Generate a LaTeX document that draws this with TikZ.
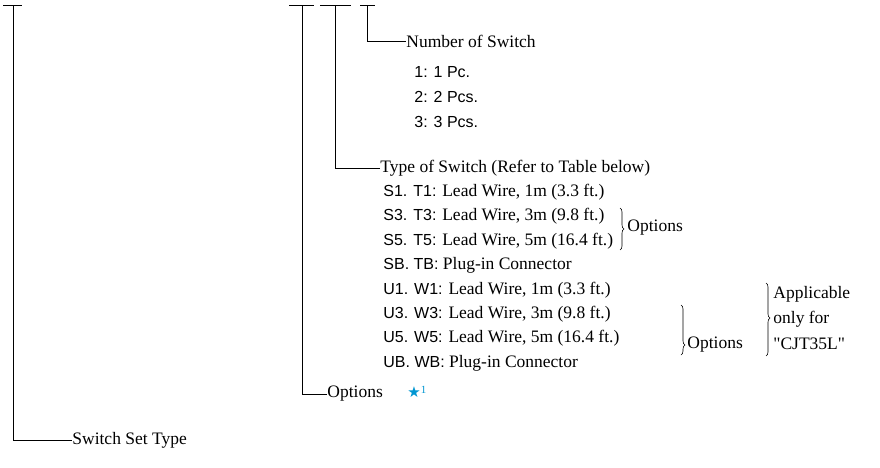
\documentclass[tikz,border=0pt]{standalone}
\usepackage{fontspec}
\setmainfont{Liberation Serif}
\newfontfamily\codefont{Liberation Sans}
\newfontfamily\symfont{DejaVu Sans}
\usepackage{xcolor}
\usepackage{tikz}
\usetikzlibrary{decorations.pathreplacing,calc}
\definecolor{starblue}{RGB}{0,150,210}
\newcommand{\cd}[1]{{\fontsize{16}{18}\codefont #1}}

\begin{document}
\begin{tikzpicture}[x=1pt,y=-1pt,
  font=\fontsize{17.5}{20}\selectfont,
  line width=0.8pt,
  lbl/.style={anchor=west,inner sep=0pt},
  brc/.style={decorate,decoration={brace,amplitude=4pt,aspect=#1},line width=0.6pt},
  brc/.default=0.5,
]
  \useasboundingbox (0,0) rectangle (880,467);

  % top bars of the code fields
  \foreach \n/\x/\a/\b in {set/13/3/22,opt/302/289/314,typ/335/320/351,num/367/360/375} {
    \coordinate (\n) at (\x,5);
    \draw (\a,5) -- (\b,5);
  }

  % number of switch
  \node[lbl] (numhd) at (406,41) {Number of Switch};
  \foreach \i/\txt/\y in {1/1 Pc./72,2/2 Pcs./97,3/3 Pcs./122}
    \node[lbl] (num\i) at (414,\y) {\cd{\i: \txt}};
  \draw (num) |- (numhd.west);

  % type of switch
  \node[lbl] (typhd) at (380,168) {Type of Switch (Refer to Table below)};
  \foreach \i/\code/\txt [count=\k from 0] in {
      s1/S1. T1/{Lead Wire, 1m (3.3 ft.)},
      s3/S3. T3/{Lead Wire, 3m (9.8 ft.)},
      s5/S5. T5/{Lead Wire, 5m (16.4 ft.)},
      sb/SB. TB/{Plug-in Connector},
      u1/U1. W1/{Lead Wire, 1m (3.3 ft.)},
      u3/U3. W3/{Lead Wire, 3m (9.8 ft.)},
      u5/U5. W5/{Lead Wire, 5m (16.4 ft.)},
      ub/UB. WB/{Plug-in Connector}}
    \node[lbl] (\i) at (383,192+24.43*\k) {\cd{\code:} \txt};
  \draw (typ) |- (typhd.west);

  % braces
  \coordinate (b1s) at (620,208);
  \coordinate (b1e) at (620,250);
  \draw[brc] (b1s) -- (b1e);
  \node[lbl] (opt1) at (627,228) {Options};
  \coordinate (b2s) at (681,305);
  \coordinate (b2e) at (681,355);
  \draw[brc=0.8] (b2s) -- (b2e);
  \node[lbl] (opt2) at (687,345) {Options};
  \coordinate (b3s) at (766,283);
  \coordinate (b3e) at (766,356);
  \draw[brc=0.48] (b3s) -- (b3e);
  \node[lbl,align=left,font=\fontsize{17.5}{25.5}\selectfont] (appl) at (773,318)
    {Applicable\\only for\\\textquotedbl CJT35L\textquotedbl};

  % options
  \node[lbl] (opthd) at (327,394) {Options};
  \node[lbl,text=starblue] (star) at (407,392)
    {{\symfont\fontsize{15}{15}\selectfont★}\raisebox{4pt}{\fontsize{11}{11}\selectfont 1}};
  \draw (opt) |- (opthd.west);

  % switch set type
  \node[lbl] (sethd) at (72,440) {Switch Set Type};
  \draw (set) |- (sethd.west);
\end{tikzpicture}
\end{document}
